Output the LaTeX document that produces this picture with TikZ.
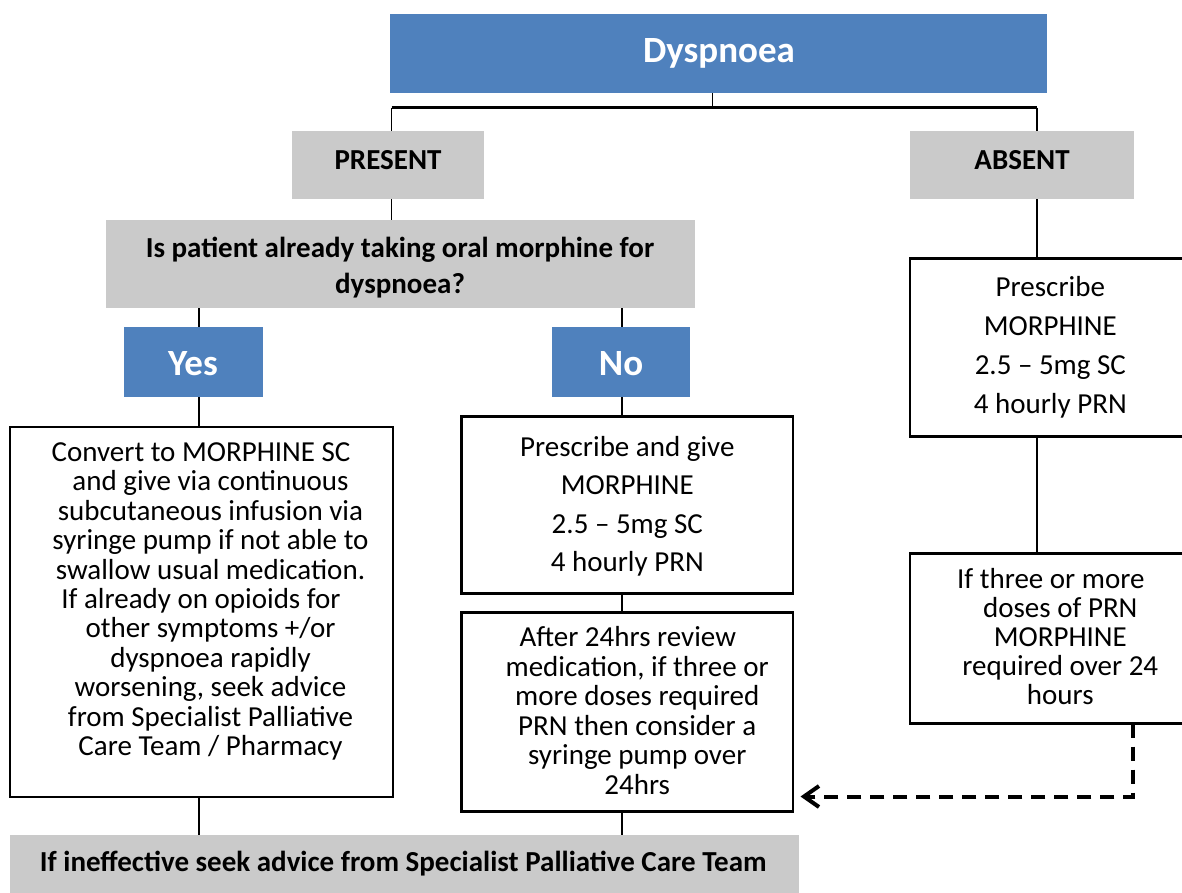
\documentclass[tikz,border=0pt]{standalone}
\usepackage{fontspec}
\setmainfont{Carlito}
\usetikzlibrary{arrows.meta}
\definecolor{hdrblue}{HTML}{4F81BD}
\definecolor{lgray}{HTML}{CACACA}
\newcommand{\fl}{\rule{0pt}{25pt}}
\newcommand{\ind}{\hspace*{19pt}}
\tikzset{
  bluebox/.style={fill=hdrblue, draw=none, inner sep=0pt, outer sep=0pt},
  graybox/.style={fill=lgray, draw=none, inner sep=0pt, outer sep=0pt},
  whitebox/.style={draw=black, line width=2.5pt, fill=white, inner sep=0pt, outer sep=0pt},
  titletxt/.style={text=white, font=\fontsize{37}{40}\selectfont\bfseries, inner sep=0pt, anchor=base},
  boldtxt/.style={font=\fontsize{29}{36}\selectfont\bfseries, inner sep=0pt, anchor=north, align=center},
  bodytxt/.style={font=\fontsize{29}{29.45}\selectfont, inner sep=0pt, anchor=north, align=center},
  widetxt/.style={font=\fontsize{29}{38.4}\selectfont, inner sep=0pt, anchor=north, align=center},
  conn/.style={line width=1.2pt},
  barline/.style={line width=2.2pt},
  dasharrow/.style={line width=4pt, dash pattern=on 14pt off 9pt, -{Straight Barb[length=15pt,width=21pt]}},
}
\begin{document}
\begin{tikzpicture}[x=1pt, y=-1pt]
\useasboundingbox (0,0) rectangle (1182,892);
\clip (0,0) rectangle (1182,892);

% column / junction coordinates
\coordinate (bar) at (0,107.5);
\coordinate (colD) at (712.3,0);
\coordinate (colA) at (391.5,0);
\coordinate (colR) at (1037,0);
\coordinate (colYes) at (199,0);
\coordinate (colNo) at (622,0);
\coordinate (colDash) at (1133.3,0);
\coordinate (tip) at (800.5,796.5);

% boxes
\node[bluebox, minimum width=657pt, minimum height=79pt] (dysp) at (718.5,53.5) {};
\node[graybox, minimum width=192pt, minimum height=68pt] (present) at (388,165) {};
\node[graybox, minimum width=224pt, minimum height=68pt] (absent) at (1022,165) {};
\node[graybox, minimum width=589pt, minimum height=88pt] (quest) at (400.5,264) {};
\node[bluebox, minimum width=139pt, minimum height=70pt] (yes) at (193.5,362) {};
\node[bluebox, minimum width=138pt, minimum height=70pt] (no) at (621,362) {};
\node[whitebox, minimum width=383pt, minimum height=370pt] (conv) at (201.5,612) {};
\node[whitebox, minimum width=331.5pt, minimum height=177pt] (presc) at (627.25,505) {};
\node[whitebox, minimum width=331.5pt, minimum height=199pt] (after) at (627.25,712) {};
\node[graybox, minimum width=789pt, minimum height=65pt] (bottom) at (404.5,867.5) {};
\node[whitebox, minimum width=280pt, minimum height=178pt] (rpresc) at (1050,347.5) {};
\node[whitebox, minimum width=280pt, minimum height=170pt] (ifthree) at (1050,638.5) {};

% texts
\node[titletxt] (tdysp) at (719,62.7) {Dyspnoea};
\node[boldtxt, anchor=base] (tpresent) at (388,169.3) {PRESENT};
\node[boldtxt, anchor=base] (tabsent) at (1022,169.3) {ABSENT};
\node[boldtxt] (tquest) at (400,232.3) {\fl Is patient already taking oral morphine for\\dyspnoea?};
\node[titletxt] (tyes) at (193,375) {Yes};
\node[titletxt] (tno) at (621,375) {No};
\node[bodytxt] (tconv) at (201,436) {\fl Convert to MORPHINE SC\\
\ind and give via continuous\\
\ind subcutaneous infusion via\\
\ind syringe pump if not able to\\
\ind swallow usual medication.\\
If already on opioids for\\
\ind other symptoms +/or\\
\ind dyspnoea rapidly\\
\ind worsening, seek advice\\
\ind from Specialist Palliative\\
\ind Care Team / Pharmacy};
\node[widetxt] (tpresc) at (627.3,431) {\fl Prescribe and give\\MORPHINE\\2.5 – 5mg SC\\4 hourly PRN};
\node[bodytxt] (tafter) at (627.7,621.7) {\fl After 24hrs review\\
\ind medication, if three or\\
\ind more doses required\\
\ind PRN then consider a\\
\ind syringe pump over\\
\ind 24hrs};
\node[boldtxt, anchor=base] (tbottom) at (403.3,871) {If ineffective seek advice from Specialist Palliative Care Team};
\node[widetxt, font=\fontsize{29}{38.7}\selectfont] (trpresc) at (1050.3,271.7) {\fl Prescribe\\MORPHINE\\2.5 – 5mg SC\\4 hourly PRN};
\node[bodytxt, font=\fontsize{29}{29}\selectfont] (tifthree) at (1050.8,563.3) {\fl If three or more\\
\ind doses of PRN\\
\ind MORPHINE\\
\ind required over 24\\
\ind hours};

% connectors
\draw[conn] (dysp.south -| colD) -- (colD |- bar);
\draw[barline] (colA |- bar) -- (colR |- bar);
\draw[conn] (colA |- bar) -- (present.north -| colA);
\draw[conn] (colR |- bar) -- (absent.north -| colR);
\draw[conn] (present.south -| colA) -- (quest.north -| colA);
\draw[conn] (quest.south -| colYes) -- (yes.north -| colYes);
\draw[conn] (quest.south -| colNo) -- (no.north -| colNo);
\draw[conn] (yes.south -| colYes) -- (conv.north -| colYes);
\draw[conn] (no.south -| colNo) -- (presc.north -| colNo);
\draw[conn] (presc.south -| colNo) -- (after.north -| colNo);
\draw[conn] (conv.south -| colYes) -- (bottom.north -| colYes);
\draw[conn] (after.south -| colNo) -- (bottom.north -| colNo);
\draw[conn] (absent.south -| colR) -- (rpresc.north -| colR);
\draw[conn] (rpresc.south -| colR) -- (ifthree.north -| colR);
\draw[dasharrow] (ifthree.south -| colDash) |- (tip);
\end{tikzpicture}
\end{document}
